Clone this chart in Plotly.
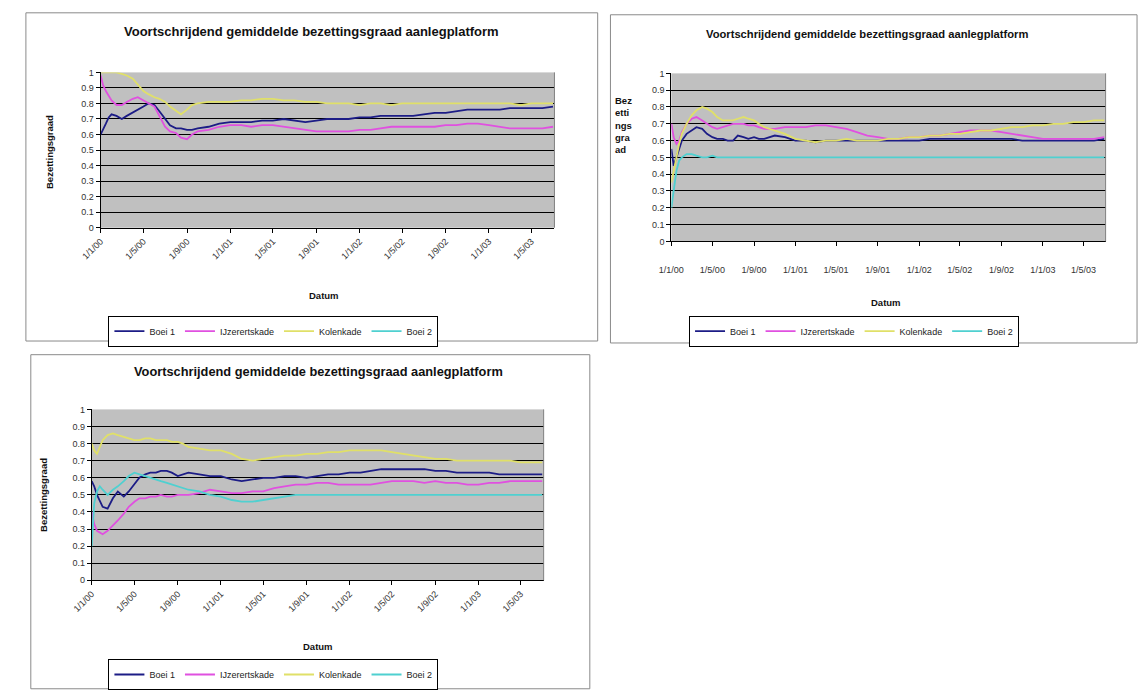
import plotly.graph_objects as go

# ---- data -------------------------------------------------------------
dates = [
    "2000-01-01", "2000-01-08", "2000-01-16", "2000-01-24", "2000-02-01",
    "2000-02-15", "2000-03-01", "2000-03-15", "2000-04-01", "2000-04-15",
    "2000-05-01", "2000-05-15", "2000-06-01", "2000-06-15", "2000-07-01",
    "2000-07-15", "2000-08-01", "2000-08-15", "2000-09-01", "2000-09-15",
    "2000-10-01", "2000-11-01", "2000-12-01",
    "2001-01-01", "2001-02-01", "2001-03-01", "2001-04-01", "2001-05-01", "2001-06-01",
    "2001-07-01", "2001-08-01", "2001-09-01", "2001-10-01", "2001-11-01", "2001-12-01",
    "2002-01-01", "2002-02-01", "2002-03-01", "2002-04-01", "2002-05-01", "2002-06-01",
    "2002-07-01", "2002-08-01", "2002-09-01", "2002-10-01", "2002-11-01", "2002-12-01",
    "2003-01-01", "2003-02-01", "2003-03-01", "2003-04-01", "2003-05-01", "2003-06-01",
    "2003-07-01",
]

tick_dates = ["2000-01-01", "2000-05-01", "2000-09-01", "2001-01-01", "2001-05-01",
              "2001-09-01", "2002-01-01", "2002-05-01", "2002-09-01", "2003-01-01",
              "2003-05-01"]
tick_labels = ["1/1/00", "1/5/00", "1/9/00", "1/1/01", "1/5/01", "1/9/01",
               "1/1/02", "1/5/02", "1/9/02", "1/1/03", "1/5/03"]

series_names = ["Boei 1", "IJzerertskade", "Kolenkade", "Boei 2"]

# chart 1
c1_boei1 = [0.60, 0.63, 0.67, 0.71, 0.73, 0.72, 0.70, 0.72, 0.74, 0.76,
            0.78, 0.80, 0.79, 0.75, 0.70, 0.66, 0.64, 0.64, 0.63, 0.63,
            0.64, 0.65, 0.67,
            0.68, 0.68, 0.68, 0.69, 0.69, 0.70, 0.69, 0.68, 0.69, 0.70, 0.70, 0.70,
            0.71, 0.71, 0.72, 0.72, 0.72, 0.72, 0.73, 0.74, 0.74, 0.75, 0.76, 0.76,
            0.76, 0.76, 0.77, 0.77, 0.77, 0.77, 0.78]
c1_ijzer = [0.98, 0.92, 0.88, 0.85, 0.82, 0.79, 0.79, 0.81, 0.83, 0.84,
            0.82, 0.80, 0.78, 0.72, 0.65, 0.62, 0.61, 0.58, 0.57, 0.60,
            0.62, 0.63, 0.65,
            0.66, 0.66, 0.65, 0.66, 0.66, 0.65, 0.64, 0.63, 0.62, 0.62, 0.62, 0.62,
            0.63, 0.63, 0.64, 0.65, 0.65, 0.65, 0.65, 0.65, 0.66, 0.66, 0.67, 0.67,
            0.66, 0.65, 0.64, 0.64, 0.64, 0.64, 0.65]
c1_kolen = [1.00, 1.00, 1.00, 1.00, 1.00, 1.00, 0.99, 0.98, 0.96, 0.92,
            0.88, 0.86, 0.84, 0.83, 0.81, 0.78, 0.75, 0.73, 0.76, 0.79,
            0.80, 0.81, 0.81,
            0.81, 0.82, 0.82, 0.83, 0.83, 0.82, 0.82, 0.81, 0.81, 0.80, 0.80, 0.80,
            0.79, 0.80, 0.80, 0.79, 0.80, 0.80, 0.80, 0.80, 0.80, 0.80, 0.80, 0.80,
            0.80, 0.80, 0.80, 0.79, 0.80, 0.80, 0.80]
c1_boei2 = [None] * len(dates)  # no readings for Boei 2 in this chart

# chart 2
c2_boei1 = [0.55, 0.45, 0.50, 0.55, 0.60, 0.64, 0.66, 0.68, 0.67, 0.64,
            0.62, 0.61, 0.61, 0.60, 0.60, 0.63, 0.62, 0.61, 0.62, 0.61,
            0.61, 0.63, 0.62,
            0.60, 0.60, 0.59, 0.60, 0.60, 0.60, 0.60, 0.60, 0.60, 0.60, 0.60, 0.60,
            0.60, 0.61, 0.61, 0.61, 0.61, 0.61, 0.61, 0.61, 0.61, 0.61, 0.60, 0.60,
            0.60, 0.60, 0.60, 0.60, 0.60, 0.60, 0.61]
c2_ijzer = [0.70, 0.62, 0.58, 0.60, 0.65, 0.70, 0.73, 0.74, 0.72, 0.70,
            0.68, 0.67, 0.68, 0.69, 0.70, 0.70, 0.70, 0.69, 0.69, 0.68,
            0.67, 0.67, 0.68,
            0.68, 0.68, 0.69, 0.69, 0.68, 0.67, 0.65, 0.63, 0.62, 0.61, 0.61, 0.62,
            0.62, 0.63, 0.63, 0.64, 0.65, 0.66, 0.66, 0.66, 0.65, 0.64, 0.63, 0.62,
            0.61, 0.61, 0.61, 0.61, 0.61, 0.61, 0.62]
c2_kolen = [0.35, 0.42, 0.52, 0.58, 0.64, 0.70, 0.75, 0.78, 0.80, 0.79,
            0.77, 0.74, 0.72, 0.72, 0.72, 0.73, 0.74, 0.73, 0.72, 0.70,
            0.68, 0.66, 0.64,
            0.61, 0.60, 0.59, 0.60, 0.60, 0.61, 0.60, 0.60, 0.60, 0.61, 0.61, 0.62,
            0.62, 0.63, 0.63, 0.64, 0.64, 0.65, 0.66, 0.66, 0.67, 0.68, 0.68, 0.69,
            0.69, 0.70, 0.70, 0.71, 0.71, 0.72, 0.72]
c2_boei2 = [0.20, 0.30, 0.42, 0.48, 0.50, 0.52, 0.52, 0.51, 0.50, 0.50,
            0.51, 0.50, 0.50, 0.50, 0.50, 0.50, 0.50, 0.50, 0.50, 0.50,
            0.50, 0.50, 0.50,
            0.50, 0.50, 0.50, 0.50, 0.50, 0.50, 0.50, 0.50, 0.50, 0.50, 0.50, 0.50,
            0.50, 0.50, 0.50, 0.50, 0.50, 0.50, 0.50, 0.50, 0.50, 0.50, 0.50, 0.50,
            0.50, 0.50, 0.50, 0.50, 0.50, 0.50, 0.50]

# chart 3
c3_boei1 = [0.58, 0.55, 0.50, 0.46, 0.43, 0.42, 0.48, 0.52, 0.49, 0.52,
            0.56, 0.60, 0.62, 0.63, 0.63, 0.64, 0.64, 0.63, 0.61, 0.62,
            0.63, 0.62, 0.61,
            0.61, 0.59, 0.58, 0.59, 0.60, 0.60, 0.61, 0.61, 0.60, 0.61, 0.62, 0.62,
            0.63, 0.63, 0.64, 0.65, 0.65, 0.65, 0.65, 0.65, 0.64, 0.64, 0.63, 0.63,
            0.63, 0.63, 0.62, 0.62, 0.62, 0.62, 0.62]
c3_ijzer = [0.40, 0.33, 0.29, 0.28, 0.27, 0.29, 0.32, 0.35, 0.39, 0.43,
            0.46, 0.48, 0.48, 0.49, 0.49, 0.50, 0.49, 0.49, 0.50, 0.50,
            0.50, 0.51, 0.53,
            0.52, 0.51, 0.51, 0.52, 0.52, 0.54, 0.55, 0.56, 0.56, 0.57, 0.57, 0.56,
            0.56, 0.56, 0.56, 0.57, 0.58, 0.58, 0.58, 0.57, 0.58, 0.57, 0.57, 0.56,
            0.56, 0.57, 0.57, 0.58, 0.58, 0.58, 0.58]
c3_kolen = [0.80, 0.76, 0.74, 0.78, 0.82, 0.85, 0.86, 0.85, 0.84, 0.83,
            0.82, 0.82, 0.83, 0.83, 0.82, 0.82, 0.82, 0.81, 0.81, 0.80,
            0.78, 0.77, 0.76,
            0.76, 0.74, 0.71, 0.70, 0.71, 0.72, 0.73, 0.73, 0.74, 0.74, 0.75, 0.75,
            0.76, 0.76, 0.76, 0.76, 0.75, 0.74, 0.73, 0.72, 0.71, 0.71, 0.70, 0.70,
            0.70, 0.70, 0.70, 0.70, 0.69, 0.69, 0.69]
c3_boei2 = [0.20, 0.45, 0.52, 0.55, 0.53, 0.50, 0.53, 0.55, 0.58, 0.61,
            0.63, 0.62, 0.61, 0.60, 0.59, 0.58, 0.57, 0.56, 0.55, 0.54,
            0.53, 0.52, 0.50,
            0.49, 0.47, 0.46, 0.46, 0.47, 0.48, 0.49, 0.50, 0.50, 0.50, 0.50, 0.50,
            0.50, 0.50, 0.50, 0.50, 0.50, 0.50, 0.50, 0.50, 0.50, 0.50, 0.50, 0.50,
            0.50, 0.50, 0.50, 0.50, 0.50, 0.50, 0.50]

chart_series = [
    [c1_boei1, c1_ijzer, c1_kolen, c1_boei2],
    [c2_boei1, c2_ijzer, c2_kolen, c2_boei2],
    [c3_boei1, c3_ijzer, c3_kolen, c3_boei2],
]

chart_title = "Voortschrijdend gemiddelde bezettingsgraad aanlegplatform"
y_title = "Bezettingsgraad"
x_title = "Datum"

# ---- styling ----------------------------------------------------------
W, H = 1139, 690
FONT = "Arial, Liberation Sans, sans-serif"
line_colors = ["#1c1c86", "#e050e0", "#e0e068", "#4fd0d0"]


def fx(p):
    return p / W


def fy(p):
    return 1 - p / H


# per chart: plot area (l, t, r, b), frame (l, t, r, b), text placements
charts = [
    dict(plot=(82, 69, 544, 228), frame=(6, 8, 588, 344),
         title=(297, 27, 13), ytitle=(30, 150), xtitle=(309, 297),
         legend=(90, 318), tickangle=-45, standoff=0, ytitle_wrap=False),
    dict(plot=(663, 70, 1105, 242), frame=(601, 10, 1137, 346),
         title=(862, 30, 11.2), ytitle=(614, 123), xtitle=(881, 305),
         legend=(681, 318), tickangle=0, standoff=16, ytitle_wrap=True),
    dict(plot=(73, 414, 533, 589), frame=(11, 358, 580, 700),
         title=(304, 375, 12.8), ytitle=(24, 502), xtitle=(303, 657),
         legend=(90, 670), tickangle=-45, standoff=0, ytitle_wrap=False),
]

fig = go.Figure()
shapes = []
annotations = []
layout = dict(
    width=W, height=H, autosize=False,
    margin=dict(l=0, r=0, t=0, b=0),
    paper_bgcolor="white", plot_bgcolor="#c0c0c0",
    font=dict(family=FONT, size=9, color="#222"),
    showlegend=True,
)


def label(text, x, y, size, **extra):
    return dict(text=text, x=fx(x), y=fy(y), xref="paper", yref="paper",
                xanchor="center", yanchor="middle", showarrow=False,
                font=dict(size=size, color="#111"), **extra)


for i, cfg in enumerate(charts):
    k = i + 1
    suffix = "" if k == 1 else str(k)
    xa, ya = "x" + suffix, "y" + suffix
    leg = "legend" + suffix
    l, t, r, b = cfg["plot"]

    for name, vals, col in zip(series_names, chart_series[i], line_colors):
        fig.add_trace(go.Scatter(
            x=dates, y=vals, name=name, mode="lines",
            line=dict(color=col, width=1.8),
            xaxis=xa, yaxis=ya, legend=leg,
        ))

    layout["xaxis" + suffix] = dict(
        domain=[fx(l), fx(r)], anchor=ya, type="date",
        range=["2000-01-01", "2003-07-05"],
        tickmode="array", tickvals=tick_dates, ticktext=tick_labels,
        tickangle=cfg["tickangle"], ticklabelstandoff=cfg["standoff"],
        showgrid=False, zeroline=False,
        showline=True, linecolor="black", linewidth=1,
        ticks="outside", ticklen=4, tickcolor="black",
        tickfont=dict(size=9, color="#333"),
    )
    layout["yaxis" + suffix] = dict(
        domain=[fy(b), fy(t)], anchor=xa, range=[0, 1], dtick=0.1,
        showgrid=True, gridcolor="black", gridwidth=1, zeroline=False,
        showline=True, linecolor="black", linewidth=1,
        ticks="outside", ticklen=4, tickcolor="black",
        tickfont=dict(size=9, color="#333"),
    )

    lx, ly = cfg["legend"]
    layout[leg] = dict(
        x=fx(lx), y=fy(ly), xanchor="left", yanchor="top",
        orientation="h", bgcolor="white",
        bordercolor="black", borderwidth=1,
        font=dict(size=9, color="#222"), itemwidth=30,
        tracegroupgap=0,
    )

    # chart frame
    fl, ft, fr, fb = cfg["frame"]
    shapes.append(dict(type="rect", xref="paper", yref="paper",
                       x0=fx(fl), x1=fx(fr), y0=fy(fb), y1=fy(ft),
                       line=dict(color="#8a8a8a", width=1), layer="below"))
    # right edge of the plot area
    shapes.append(dict(type="line", xref="paper", yref="paper",
                       x0=fx(r), x1=fx(r), y0=fy(b), y1=fy(t),
                       line=dict(color="#808080", width=1)))

    tx, ty, ts = cfg["title"]
    annotations.append(label("<b>" + chart_title + "</b>", tx, ty, ts))
    xx, xy = cfg["xtitle"]
    annotations.append(label("<b>" + x_title + "</b>", xx, xy, 9.5))
    yx, yy = cfg["ytitle"]
    if cfg["ytitle_wrap"]:
        wrapped = "<br>".join(["Bez", "etti", "ngs", "gra", "ad"])
        annotations.append(label("<b>" + wrapped + "</b>", yx, yy, 9.5, align="left"))
    else:
        annotations.append(label("<b>" + y_title + "</b>", yx, yy, 9.5, textangle=-90))

layout["shapes"] = shapes
layout["annotations"] = annotations
fig.update_layout(**layout)

fig.write_html("out.html")
